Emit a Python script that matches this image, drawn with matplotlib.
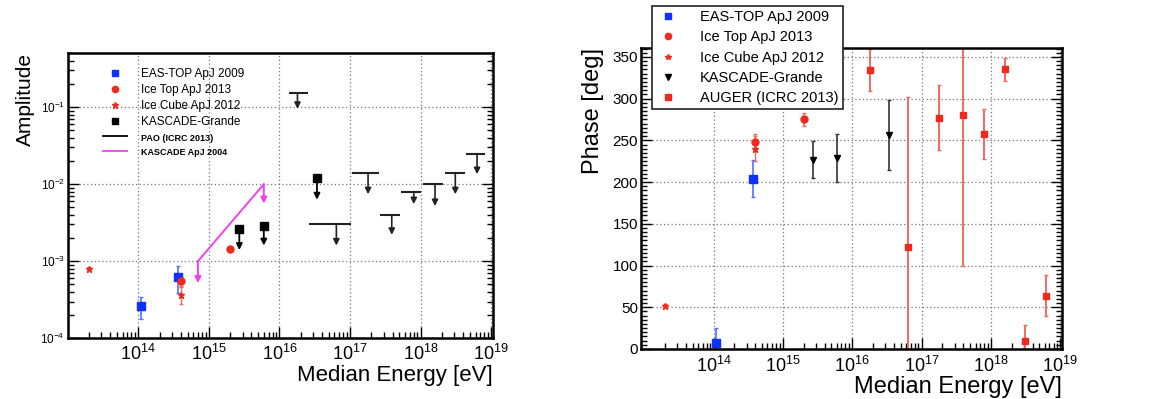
import numpy as np
import matplotlib
matplotlib.use('Agg')
import matplotlib.pyplot as plt
from matplotlib.lines import Line2D
from matplotlib.ticker import LogLocator, NullFormatter, MultipleLocator

plt.rcParams['font.family'] = ['Liberation Sans', 'DejaVu Sans']
plt.rcParams['mathtext.fontset'] = 'custom'
plt.rcParams['mathtext.rm'] = 'Liberation Sans'
plt.rcParams['mathtext.it'] = 'Liberation Sans:italic'
plt.rcParams['mathtext.bf'] = 'Liberation Sans:bold'

# ---- dados ----
eastop_e = [1.1e14, 3.7e14]
eastop_amp = [2.6e-4, 6.3e-4]
eastop_amp_err = [0.8e-4, 2.4e-4]
eastop_phase = [7, 204]
eastop_phase_err = [18, 22]

icetop_e = [4.0e14, 2.0e15]
icetop_amp = [5.5e-4, 1.45e-3]
icetop_amp_err = [0.7e-4, 1.5e-4]
icetop_phase = [248, 275]
icetop_phase_err = [10, 8]

icecube_e = [2.0e13, 4.0e14]
icecube_amp = [8.0e-4, 3.7e-4]
icecube_amp_err = [0.4e-4, 0.9e-4]
icecube_phase = [52, 240]
icecube_phase_err = [2, 15]

kg_e = [2.7e15, 6.0e15, 3.4e16]
kg_amp_ul = [2.6e-3, 2.9e-3, 1.2e-2]
kg_amp_tip = [1.4e-3, 1.6e-3, 6.3e-3]
kg_phase = [227, 229, 256]
kg_phase_err = [22, 29, 42]

pao_e = [1.8e16, 6.4e16, 1.8e17, 3.9e17, 8.0e17, 1.6e18, 3.1e18, 6.3e18]
pao_lo = [1.37e16, 2.63e16, 1.05e17, 2.7e17, 5.3e17, 1.07e18, 2.2e18, 4.4e18]
pao_hi = [2.56e16, 1.02e17, 2.6e17, 5.15e17, 1.0e18, 2.1e18, 4.2e18, 8.3e18]
pao_amp_ul = [0.152, 3.0e-3, 1.4e-2, 4.0e-3, 8.0e-3, 1.0e-2, 1.4e-2, 2.5e-2]
pao_amp_tip = [0.095, 1.6e-3, 7.4e-3, 2.2e-3, 5.5e-3, 5.2e-3, 7.4e-3, 1.35e-2]
pao_phase = [334, 122, 277, 280, 258, 335, 9, 64]
pao_phase_err = [25, 180, 39, 180, 30, 14, 20, 25]

kascade04_e = [7.0e14, 6.0e15]
kascade04_amp = [1.0e-3, 1.0e-2]
kascade04_tip = [5.2e-4, 5.6e-3]

BLUE = '#1030ff'
RED = '#ee2a1e'
LRED = '#f26a60'
MAG = '#f040f0'
W, H = 1159, 399


def down_arrow(ax, x, top, tip, color, lw=1.3):
    ax.annotate('', xy=(x, tip), xytext=(x, top),
                arrowprops=dict(arrowstyle='-|>', color=color, lw=lw,
                                shrinkA=0, shrinkB=0, mutation_scale=9))


def style_axes(ax):
    for s in ax.spines.values():
        s.set_linewidth(1.8)
    ax.tick_params(which='both', direction='in', right=True, top=False, width=1.0)
    ax.tick_params(which='major', length=8)
    ax.tick_params(which='minor', length=4)
    ax.grid(True, which='major', linestyle=(0, (1, 2)), color='#777777', lw=0.9)
    ax.set_axisbelow(True)


fig = plt.figure(figsize=(W / 100, H / 100), dpi=100)

# ---- painel esquerdo: amplitude ----
ax1 = fig.add_axes([67.7 / W, 1 - 338.3 / H, 425 / W, 285 / H])
ax1.set_xscale('log')
ax1.set_yscale('log')
ax1.set_xlim(1e13, 1.05e19)
ax1.set_ylim(1e-4, 0.5)
style_axes(ax1)

ax1.errorbar(eastop_e, eastop_amp, yerr=eastop_amp_err, fmt='s', color=BLUE,
             ms=5.5, lw=1.2, capsize=1.5, ecolor='#5070ff')
ax1.errorbar(icecube_e, icecube_amp, yerr=icecube_amp_err, fmt='*', color=RED,
             ms=5, lw=1.0, capsize=1.5, ecolor=LRED)
ax1.errorbar(icetop_e, icetop_amp, yerr=icetop_amp_err, fmt='o', color=RED,
             ms=5, lw=1.2, capsize=1.5, ecolor=LRED)

ax1.plot(kg_e, kg_amp_ul, 's', color='black', ms=5.5)
for x, top, tip in zip(kg_e, kg_amp_ul, kg_amp_tip):
    down_arrow(ax1, x, top, tip, 'black')

ax1.hlines(pao_amp_ul, pao_lo, pao_hi, color='#222222', lw=1.5)
for x, top, tip in zip(pao_e, pao_amp_ul, pao_amp_tip):
    down_arrow(ax1, x, top, tip, '#222222', lw=1.2)

ax1.plot(kascade04_e, kascade04_amp, color=MAG, lw=1.4)
for x, top, tip in zip(kascade04_e, kascade04_amp, kascade04_tip):
    down_arrow(ax1, x, top, tip, MAG, lw=1.4)

ax1.set_xticks([1e14, 1e15, 1e16, 1e17, 1e18, 1e19])
ax1.xaxis.set_minor_locator(LogLocator(subs=np.arange(2, 10)))
ax1.xaxis.set_minor_formatter(NullFormatter())
ax1.set_yticks([1e-4, 1e-3, 1e-2, 1e-1])
ax1.yaxis.set_minor_locator(LogLocator(subs=np.arange(2, 10)))
ax1.yaxis.set_minor_formatter(NullFormatter())
ax1.tick_params(axis='x', labelsize=13, pad=4)
ax1.tick_params(axis='y', labelsize=8.5, pad=2)
ax1.set_xlabel('Median Energy [eV]', fontsize=16, loc='right', labelpad=1)
ax1.set_ylabel('Amplitude', fontsize=15, loc='top', labelpad=4)

h1 = [Line2D([], [], ls='none', marker='s', color=BLUE, ms=4.5),
      Line2D([], [], ls='none', marker='o', color=RED, ms=4.5),
      Line2D([], [], ls='none', marker='*', color=RED, ms=4.5),
      Line2D([], [], ls='none', marker='s', color='black', ms=4.5),
      Line2D([], [], color='black', lw=1.3),
      Line2D([], [], color=MAG, lw=1.3)]
l1 = ['EAS-TOP ApJ 2009', 'Ice Top ApJ 2013', 'Ice Cube ApJ 2012',
      'KASCADE-Grande', 'PAO (ICRC 2013)', 'KASCADE ApJ 2004']
leg1 = ax1.legend(h1, l1, loc='upper left', bbox_to_anchor=(0.07, 0.97),
                  frameon=False, fontsize=8.5, handlelength=2.0,
                  handletextpad=1.2, labelspacing=0.35, borderpad=0)
for t in leg1.get_texts()[4:]:
    t.set_fontsize(6.5)
    t.set_fontweight('bold')

# ---- painel direito: fase ----
ax2 = fig.add_axes([641 / W, 1 - 349 / H, 420.7 / W, 301.3 / H])
ax2.set_xscale('log')
ax2.set_xlim(9e12, 1.05e19)
ax2.set_ylim(0, 361)
style_axes(ax2)

ax2.errorbar(eastop_e, eastop_phase, yerr=eastop_phase_err, fmt='s', color=BLUE,
             ms=5.5, lw=1.2, capsize=1.5, ecolor='#5070ff')
ax2.errorbar(icecube_e, icecube_phase, yerr=icecube_phase_err, fmt='*', color=RED,
             ms=5, lw=1.0, capsize=1.5, ecolor=LRED)
ax2.errorbar(icetop_e, icetop_phase, yerr=icetop_phase_err, fmt='o', color=RED,
             ms=5, lw=1.2, capsize=1.5, ecolor=LRED)
ax2.errorbar(kg_e, kg_phase, yerr=kg_phase_err, fmt='v', color='black',
             ms=5, lw=1.2, capsize=1.5, ecolor='#333333')
ax2.errorbar(pao_e, pao_phase, yerr=pao_phase_err, fmt='s', color=RED,
             ms=5, lw=1.4, capsize=1.5, ecolor=LRED)

ax2.set_xticks([1e14, 1e15, 1e16, 1e17, 1e18, 1e19])
ax2.xaxis.set_minor_locator(LogLocator(subs=np.arange(2, 10)))
ax2.xaxis.set_minor_formatter(NullFormatter())
ax2.yaxis.set_major_locator(MultipleLocator(50))
ax2.yaxis.set_minor_locator(MultipleLocator(5))
ax2.tick_params(axis='x', labelsize=13, pad=5)
ax2.tick_params(axis='y', labelsize=11, pad=2)
ax2.set_xlabel('Median Energy [eV]', fontsize=17, loc='right', labelpad=0)
ax2.set_ylabel('Phase [deg]', fontsize=17, loc='top', labelpad=6)

h2 = [Line2D([], [], ls='none', marker='s', color=BLUE, ms=4.5),
      Line2D([], [], ls='none', marker='o', color=RED, ms=4.5),
      Line2D([], [], ls='none', marker='*', color=RED, ms=4),
      Line2D([], [], ls='none', marker='v', color='black', ms=4.5),
      Line2D([], [], ls='none', marker='s', color=RED, ms=4.5)]
l2 = ['EAS-TOP ApJ 2009', 'Ice Top ApJ 2013', 'Ice Cube ApJ 2012',
      'KASCADE-Grande', 'AUGER (ICRC 2013)']
leg2 = ax2.legend(h2, l2, loc='upper left', bbox_to_anchor=(651.7 / W, 1 - 6 / H),
                  bbox_transform=fig.transFigure, fontsize=10.5, fancybox=False,
                  edgecolor='#222222', framealpha=1, handlelength=1.6,
                  handletextpad=1.4, labelspacing=0.42, borderpad=0.3,
                  borderaxespad=0)
leg2.get_frame().set_linewidth(1.2)

fig.savefig('out.png', dpi=100)
